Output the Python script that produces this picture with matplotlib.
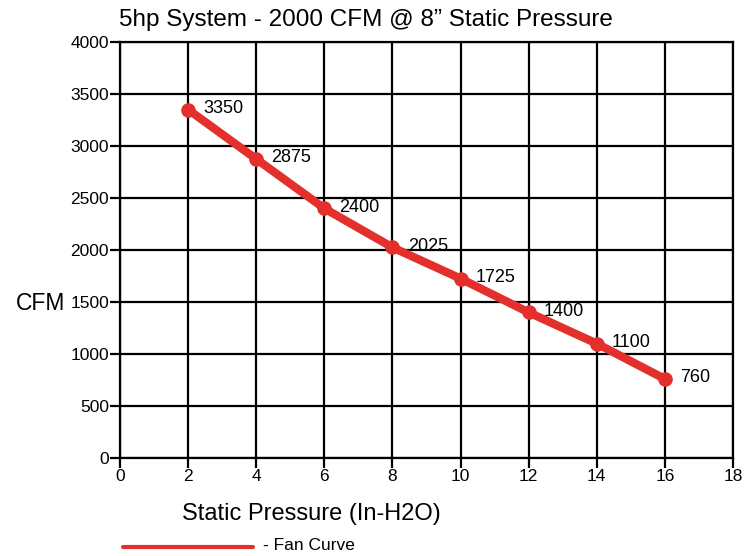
import matplotlib
matplotlib.use("Agg")
import matplotlib.pyplot as plt

plt.rcParams['font.family'] = ['Liberation Sans', 'DejaVu Sans']

pressure = [2, 4, 6, 8, 10, 12, 14, 16]
cfm = [3350, 2875, 2400, 2025, 1725, 1400, 1100, 760]
point_labels = ["3350", "2875", "2400", "2025", "1725", "1400", "1100", "760"]
x_ticks = [0, 2, 4, 6, 8, 10, 12, 14, 16, 18]
y_ticks = [0, 500, 1000, 1500, 2000, 2500, 3000, 3500, 4000]

red = "#E3302C"

fig = plt.figure(figsize=(7.56, 5.56), dpi=100)
ax = fig.add_axes([120/756, 1 - 458/556, (733-120)/756, (458-42)/556])

ax.set_xlim(0, 18)
ax.set_ylim(0, 4000)
ax.set_xticks(x_ticks)
ax.set_yticks(y_ticks)
ax.grid(True, color="black", linewidth=1.6)
ax.set_axisbelow(True)
for s in ax.spines.values():
    s.set_linewidth(1.6)
ax.tick_params(axis='both', direction='out', length=7, width=1.6, labelsize=12.5, pad=1)

line, = ax.plot(pressure, cfm, color=red, linewidth=6, marker='o', markersize=9.5,
                solid_capstyle='round', zorder=5, clip_on=False)

for x, y, t in zip(pressure, cfm, point_labels):
    ax.annotate(t, (x, y), xytext=(11, 1), textcoords='offset points',
                va='center', ha='left', fontsize=13, color='black', zorder=6)

fig.text(119/756, 1 - 20/556, "5hp System - 2000 CFM @ 8\u201d Static Pressure",
         ha='left', va='center', fontsize=17.5)
fig.text(41/756, 1 - 303/556, "CFM", ha='center', va='center', fontsize=16.5)
fig.text(311/756, 1 - 514/556, "Static Pressure (In-H2O)", ha='center', va='center', fontsize=17)

# legend
fig.lines.append(plt.Line2D([123/756, 253/756], [1 - 547/556, 1 - 547/556],
                            transform=fig.transFigure, color=red, linewidth=3,
                            solid_capstyle='round'))
fig.text(263/756, 1 - 546/556, "- Fan Curve", ha='left', va='center', fontsize=12.5)

fig.savefig("out.png", dpi=100)
